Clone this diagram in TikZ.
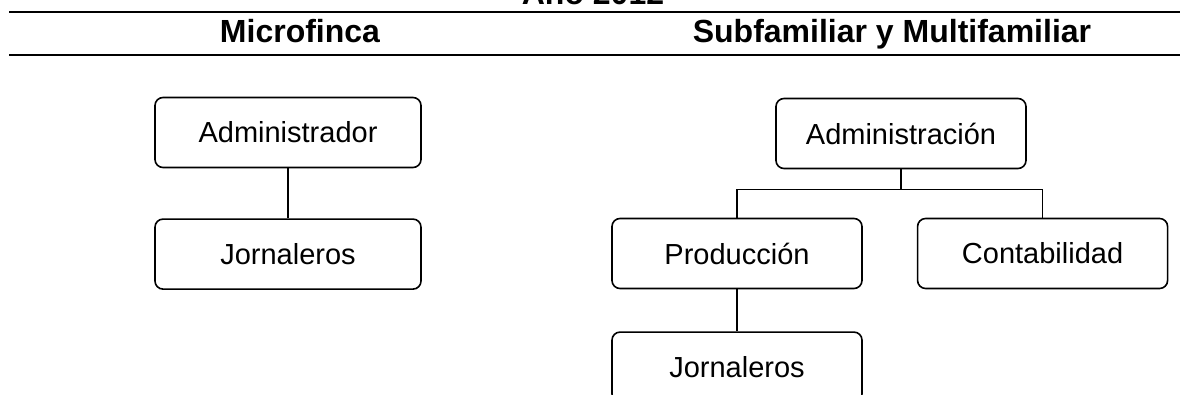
\documentclass[tikz,border=0pt]{standalone}
\usepackage{fontspec}
\setmainfont{Liberation Sans}
\usetikzlibrary{positioning}

\begin{document}
\begin{tikzpicture}[%
    x=0.5pt,
    y=0.5pt,
    node distance=25pt,
    line width=0.8pt,
    box/.style={draw, rounded corners=4pt, minimum width=125pt, minimum height=35pt,
                font=\fontsize{14.5}{17}\selectfont},
    widebox/.style={box, minimum width=133pt},
    header/.style={anchor=base, font=\fontsize{16}{19}\selectfont\bfseries},
    rule/.style={line width=1pt}
  ]

  \useasboundingbox (0,0) rectangle (1180,-395);

  % titles
  \node[header] (anio) at (593,-5) {Año 2012};
  \node[header] (micro) at (300,-43) {Microfinca};
  \node[header] (subfam) at (892,-43) {Subfamiliar y Multifamiliar};

  \coordinate (topW) at (9,-12.5);
  \coordinate (topE) at (1180,-12.5);
  \coordinate (midW) at (9,-55);
  \coordinate (midE) at (1180,-55);
  \draw[rule] (topW) -- (topE);
  \draw[rule] (midW) -- (midE);

  % Microfinca
  \node[widebox] (admin) at (288,-132.5) {Administrador};
  \node[widebox] (jorn) [below=of admin] {Jornaleros};

  % Subfamiliar y Multifamiliar
  \node[box] (adm) at (901,-133.5) {Administración};
  \node[box] (prod) at (737,-253.5) {Producción};
  \node[box] (cont) [right=27pt of prod] {Contabilidad};
  \node[box] (jorn2) [below=21pt of prod] {Jornaleros};

  \draw (admin) -- (jorn);
  \draw (prod.north) -- ++(0,28) coordinate (bus) -| (cont.north);
  \draw (adm.south) -- (adm.south |- bus);
  \draw (prod) -- (jorn2);

\end{tikzpicture}
\end{document}
